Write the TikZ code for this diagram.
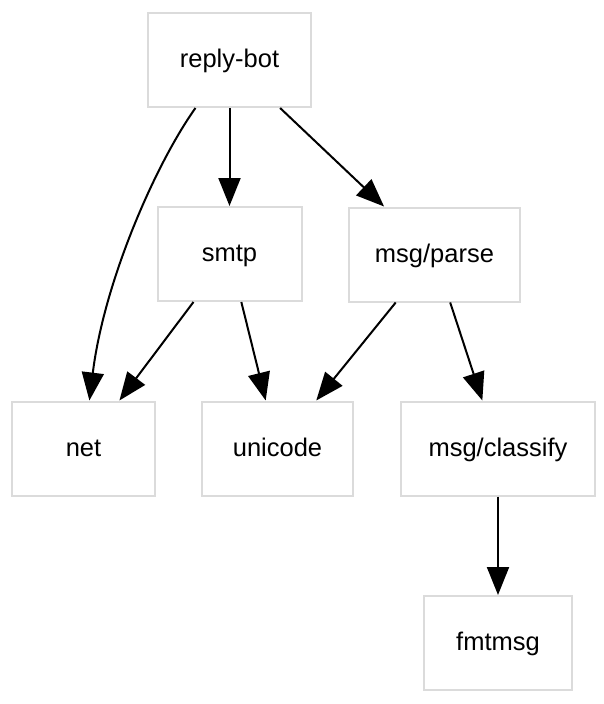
\documentclass[tikz,border=0pt]{standalone}
\usepackage{fontspec}
\setmainfont{Liberation Sans}
\usetikzlibrary{arrows.meta}
\begin{document}
\begin{tikzpicture}[x=1pt,y=-1pt,
  pkg/.style={draw=black!14, line width=2pt, fill=white, inner sep=0pt,
    minimum height=94pt, text height=19pt, text depth=4pt,
    font=\fontsize{25.5}{28}\selectfont},
  dep/.style={line width=2pt, -{Triangle[length=28pt,width=22pt]}}]
  \useasboundingbox (0,0) rectangle (604,704);
  \fill[white] (0,0) rectangle (604,704);

  % packages
  \node[pkg, minimum width=163pt] (rb)  at (229.5,60)  {reply-bot};
  \node[pkg, minimum width=144pt] (smtp) at (229.5,254)  {smtp};
  \node[pkg, minimum width=171pt] (parse) at (434.5,254.5) {msg/parse};
  \node[pkg, minimum width=143pt] (net) at (83.5,448.5) {net};
  \node[pkg, minimum width=151pt] (uni) at (277.5,448.5) {unicode};
  \node[pkg, minimum width=194pt] (cls) at (498,448.5) {msg/classify};
  \node[pkg, minimum width=148pt] (fmt) at (498,643) {fmtmsg};

  % imports
  \draw[dep] (rb) .. controls (155,165) and (104,282) .. (net);
  \draw[dep] (rb) -- (smtp);
  \draw[dep] (rb) -- (parse);
  \draw[dep] (smtp) -- (net);
  \draw[dep] (smtp) -- (uni);
  \draw[dep] (parse) -- (uni);
  \draw[dep] (parse) -- (cls);
  \draw[dep] (cls) -- (fmt);
\end{tikzpicture}
\end{document}
